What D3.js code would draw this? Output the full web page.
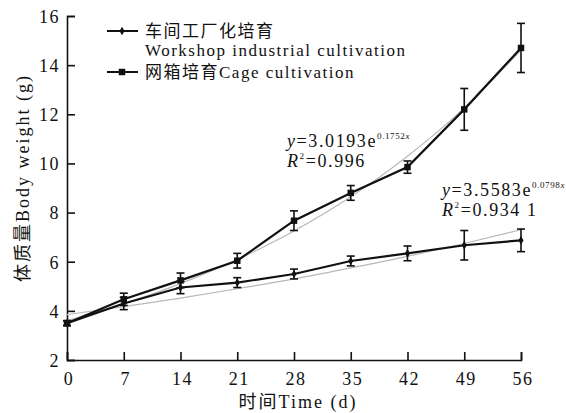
<!DOCTYPE html>
<html>
<head>
<meta charset="utf-8">
<script src="https://cdn.jsdelivr.net/npm/d3@7"></script>
<style>
  body { margin: 0; background: #fff; }
  svg text { font-family: "Liberation Serif", serif; fill: #111; letter-spacing: 1.5px; }
  .cjk { font-family: "Noto Sans CJK SC", sans-serif; }
  .lat { font-family: "Liberation Serif", serif; }
</style>
</head>
<body>
<svg id="chart" width="566" height="413"></svg>
<script>
// days of sampling
var days = [0, 7, 14, 21, 28, 35, 42, 49, 56];

// workshop industrial cultivation: mean and sd
var workshopMean = [3.5, 4.3, 4.95, 5.15, 5.5, 6.03, 6.34, 6.67, 6.87];
var workshopErr  = [0.1, 0.25, 0.25, 0.2, 0.2, 0.2, 0.3, 0.6, 0.46];

// cage cultivation: mean and sd
var cageMean = [3.5, 4.47, 5.24, 6.04, 7.67, 8.8, 9.85, 12.2, 14.7];
var cageErr  = [0.1, 0.25, 0.3, 0.3, 0.4, 0.3, 0.25, 0.85, 1.0];

// gray fitted curves read at each day
var workshopFit = [3.85, 4.17, 4.52, 4.9, 5.3, 5.75, 6.22, 6.74, 7.3];
var cageFit     = [3.6, 4.29, 5.11, 6.09, 7.25, 8.64, 10.29, 12.26, 14.61];

var yTicks = [2, 4, 6, 8, 10, 12, 14, 16];

var svg = d3.select("#chart");
var margin = { left: 67, top: 16, right: 45, bottom: 53 };
var width = 566 - margin.left - margin.right,
    height = 413 - margin.top - margin.bottom;

var g = svg.append("g")
    .attr("transform", "translate(" + margin.left + "," + margin.top + ")");

var x = d3.scaleLinear().domain([0, 56]).range([0, width]);
var y = d3.scaleLinear().domain([2, 16]).range([height, 0]);

// axes, ticks pointing inward
var xAxis = g.append("g")
    .attr("transform", "translate(0," + height + ")")
    .call(d3.axisBottom(x).tickValues(days).tickSize(-8).tickPadding(12));
var yAxis = g.append("g")
    .call(d3.axisLeft(y).tickValues(yTicks).tickSize(-8).tickPadding(7));

[xAxis, yAxis].forEach(function(a) {
  a.attr("font-family", "Liberation Serif").attr("font-size", 18);
  a.select(".domain").attr("stroke", "#111").attr("stroke-width", 1.6);
  a.selectAll(".tick line").attr("stroke", "#111").attr("stroke-width", 1.6);
  a.selectAll(".tick text").attr("fill", "#111");
});
yAxis.selectAll(".tick text").attr("dy", "0.35em");
xAxis.selectAll(".tick text").attr("dx", "0.08em");

// text with chinese and latin parts in their own fonts
function mixed(sel, parts) {
  parts.forEach(function(p) {
    sel.append("tspan").attr("class", /[\u4e00-\u9fff]/.test(p) ? "cjk" : "lat").text(p);
  });
  return sel;
}

// axis titles
mixed(svg.append("text")
    .attr("x", 298)
    .attr("y", 408)
    .attr("text-anchor", "middle")
    .style("font-size", "18px")
    .style("letter-spacing", "2px"), ["时间", "Time (d)"]);

mixed(svg.append("text")
    .attr("transform", "translate(29," + 178 + ") rotate(-90)")
    .attr("text-anchor", "middle")
    .style("font-size", "18px")
    .style("letter-spacing", "2px"), ["体质量", "Body weight (g)"]);

// fitted curves
var fitLine = d3.line()
    .x(function(d, i) { return x(days[i]); })
    .y(function(d) { return y(d); })
    .curve(d3.curveMonotoneX);

[workshopFit, cageFit].forEach(function(s) {
  g.append("path")
      .attr("d", fitLine(s))
      .attr("fill", "none")
      .attr("stroke", "#b8b8b8")
      .attr("stroke-width", 1.2);
});

// data lines
var dataLine = d3.line()
    .x(function(d, i) { return x(days[i]); })
    .y(function(d) { return y(d); });

var series = [
  { mean: workshopMean, err: workshopErr, marker: "diamond" },
  { mean: cageMean, err: cageErr, marker: "square" }
];

function markerPath(m) {
  return d3.symbol().type(m == "square" ? d3.symbolSquare : d3.symbolDiamond)
                    .size(m == "square" ? 42 : 22)();
}

series.forEach(function(s) {
  g.append("path")
      .attr("d", dataLine(s.mean))
      .attr("fill", "none")
      .attr("stroke", "#111")
      .attr("stroke-width", 2.2);

  var eb = g.append("g").attr("stroke", "#111").attr("stroke-width", 1.6);
  s.mean.forEach(function(m, i) {
    var cx = x(days[i]), top = y(m + s.err[i]), bot = y(m - s.err[i]);
    eb.append("line").attr("x1", cx).attr("x2", cx).attr("y1", top).attr("y2", bot);
    eb.append("line").attr("x1", cx - 4).attr("x2", cx + 4).attr("y1", top).attr("y2", top);
    eb.append("line").attr("x1", cx - 4).attr("x2", cx + 4).attr("y1", bot).attr("y2", bot);
  });

  g.selectAll(null)
      .data(s.mean)
      .enter().append("path")
      .attr("transform", function(d, i) { return "translate(" + x(days[i]) + "," + y(d) + ")"; })
      .attr("d", markerPath(s.marker))
      .attr("fill", "#111");
});

// legend
var legend = svg.append("g");
var legendRows = [
  { y: 31, marker: "diamond", lines: [["车间工厂化培育"], ["Workshop industrial cultivation"]] },
  { y: 72, marker: "square", lines: [["网箱培育", "Cage cultivation"]] }
];
legendRows.forEach(function(r) {
  legend.append("line")
      .attr("x1", 107).attr("x2", 138).attr("y1", r.y).attr("y2", r.y)
      .attr("stroke", "#111").attr("stroke-width", 2);
  legend.append("path")
      .attr("transform", "translate(122," + r.y + ")")
      .attr("d", markerPath(r.marker))
      .attr("fill", "#111");
  r.lines.forEach(function(parts, k) {
    mixed(legend.append("text")
        .attr("x", 145)
        .attr("y", r.y + 6 + k * 19)
        .style("font-size", "17px"), parts);
  });
});

// fitted equations
function equation(px, py, coef, rate, r2) {
  var t1 = svg.append("text").attr("x", px).attr("y", py).style("font-size", "18px")
      .style("letter-spacing", "1.6px");
  t1.append("tspan").style("font-style", "italic").text("y");
  t1.append("tspan").text("=" + coef + "e");
  t1.append("tspan").attr("dy", -8).style("font-size", "9px").style("letter-spacing", "0.6px").text(rate);
  t1.append("tspan").style("font-size", "9px").style("letter-spacing", "0px")
      .style("font-style", "italic").text("x");

  var t2 = svg.append("text").attr("x", px).attr("y", py + 20).style("font-size", "18px")
      .style("letter-spacing", "1.6px");
  t2.append("tspan").style("font-style", "italic").text("R");
  t2.append("tspan").attr("dy", -8).style("font-size", "9px").text("2");
  t2.append("tspan").attr("dy", 8).text("=" + r2);
}
equation(287, 147, "3.0193", "0.1752", "0.996");
equation(442, 196, "3.5583", "0.0798", "0.934 1");
</script>
</body>
</html>
